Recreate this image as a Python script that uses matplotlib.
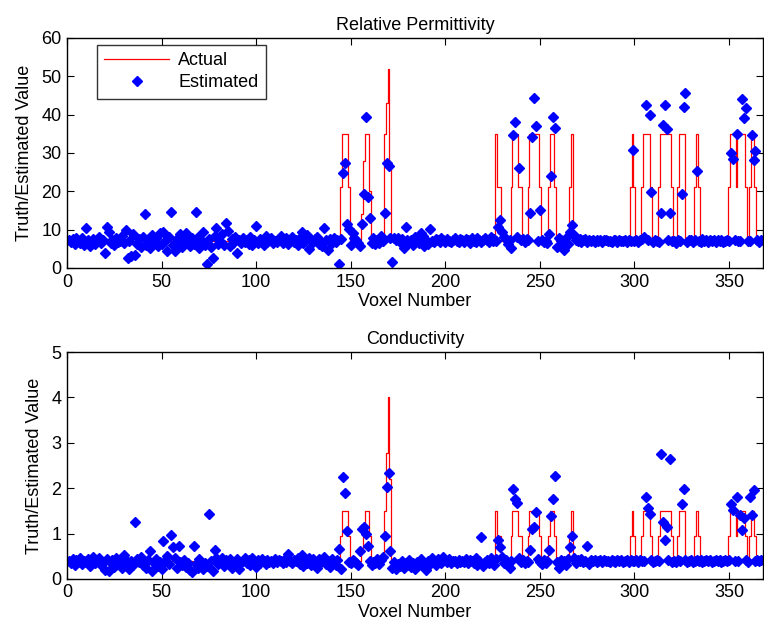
import numpy as np
import matplotlib
matplotlib.use("Agg")
import matplotlib.pyplot as plt

plt.rcParams['font.family'] = ['Liberation Sans', 'DejaVu Sans']

# ---------------- data ----------------
n_voxels = 367
perm_background = 7.0
cond_background = 0.4

# actual (truth) values that differ from background, voxel -> value
perm_actual_peaks = {
    145: 21, 146: 35, 147: 35, 148: 35, 149: 21,
    156: 14, 157: 28, 158: 35, 159: 35, 160: 20,
    168: 35, 169: 43, 170: 52, 171: 27,
    227: 35, 228: 21, 229: 21,
    235: 21, 236: 35, 237: 35, 238: 35, 239: 21, 240: 21,
    244: 21, 245: 35, 246: 35, 247: 35, 248: 35, 249: 35, 250: 21,
    255: 21, 256: 35, 257: 35, 258: 21,
    266: 21, 267: 35,
    298: 21, 299: 35, 300: 21,
    304: 21, 305: 35, 306: 35, 307: 35, 308: 35, 309: 21,
    313: 21, 314: 35, 315: 35, 316: 35, 317: 35, 318: 35, 319: 35, 320: 21,
    323: 21, 324: 35, 325: 35, 326: 35,
    332: 21, 333: 35, 334: 21,
    350: 21, 351: 35, 352: 35, 353: 35, 354: 21, 355: 35, 356: 35, 357: 35,
    358: 35, 359: 21, 361: 21, 362: 35, 363: 35, 364: 21,
}
cond_actual_peaks = {
    145: 0.95, 146: 1.5, 147: 1.5, 148: 1.5, 149: 0.95,
    156: 0.65, 157: 1.15, 158: 1.5, 159: 1.5, 160: 0.95,
    168: 1.5, 169: 2.77, 170: 4.0, 171: 2.2,
    227: 1.5, 228: 0.95, 229: 0.95,
    235: 0.95, 236: 1.5, 237: 1.5, 238: 1.5, 239: 0.95, 240: 0.95,
    244: 0.95, 245: 1.5, 246: 1.5, 247: 1.5, 248: 1.5, 249: 1.5, 250: 0.95,
    255: 0.95, 256: 1.5, 257: 1.5, 258: 0.95,
    266: 0.95, 267: 1.5,
    298: 0.95, 299: 1.5, 300: 0.95,
    304: 0.95, 305: 1.5, 306: 1.5, 307: 1.5, 308: 1.5, 309: 0.95,
    313: 0.95, 314: 1.5, 315: 1.5, 316: 1.5, 317: 1.5, 318: 1.5, 319: 1.5, 320: 0.95,
    323: 0.95, 324: 1.5, 325: 1.5, 326: 1.5,
    332: 0.95, 333: 1.5, 334: 0.95,
    350: 0.95, 351: 1.5, 352: 1.5, 353: 1.5, 354: 0.95, 355: 1.5, 356: 1.5, 357: 1.5,
    358: 1.5, 359: 0.95, 361: 0.95, 362: 1.5, 363: 1.5, 364: 0.95,
}

perm_estimated = [
    7.2, 6.8, 7.5, 6.3, 7.9, 7.0, 6.5, 7.7, 6.1, 10.3, 7.4, 5.8, 6.9, 7.6, 6.2, 7.1, 8.0, 6.6, 7.3, 4.0,
    10.8, 9.5, 6.4, 7.2, 6.0, 7.8, 6.7, 7.1, 8.3, 6.5, 9.9, 2.5, 7.0, 3.1, 8.8, 3.4, 6.2, 7.5, 5.5, 8.1,
    14.2, 6.0, 7.4, 5.2, 8.6, 6.9, 7.8, 5.6, 9.0, 6.3, 9.4, 7.1, 4.4, 8.2, 14.7, 5.9, 4.3, 7.6, 6.1, 8.8,
    5.5, 7.3, 9.0, 6.4, 5.8, 7.9, 6.2, 14.7, 8.0, 5.3, 7.2, 9.3, 6.0, 1.1, 7.6, 5.4, 2.6, 8.4, 10.4, 6.3,
    7.0, 8.9, 6.1, 11.7, 9.6, 5.8, 7.5, 6.6, 8.0, 4.0, 7.3, 6.4, 7.9, 6.8, 7.4, 6.2, 8.1, 5.9, 7.2, 10.9,
    6.5, 7.6, 7.0, 6.1, 8.3, 6.8, 7.3, 7.9, 6.4, 7.1, 6.7, 7.5, 8.4, 6.6, 7.0, 7.7, 6.3, 7.2, 8.0, 6.9,
    7.4, 6.0, 7.8, 9.5, 6.6, 7.1, 8.6, 5.0, 7.3, 6.8, 7.5, 8.1, 6.2, 7.0, 5.6, 10.4, 7.2, 4.8, 7.6, 6.4,
    7.8, 6.9, 7.3, 1.1, 7.5, 24.7, 27.3, 11.4, 10.2, 6.0, 9.0, 7.7, 7.3, 6.4, 5.8, 11.4, 19.4, 39.4, 18.5, 13.0,
    6.4, 7.8, 6.2, 7.4, 6.6, 8.3, 7.1, 14.4, 27.5, 26.6, 7.7, 1.6, 7.7, 7.3, 7.9, 6.9, 7.6, 5.3, 10.6, 7.2,
    6.8, 7.4, 6.1, 8.0, 7.2, 6.5, 9.0, 8.3, 5.7, 7.4, 6.3, 10.2, 7.1, 6.8, 7.6, 7.3, 6.9, 7.8, 7.2, 6.7,
    7.5, 7.1, 6.8, 7.4, 7.9, 7.0, 6.7, 7.6, 7.2, 6.9, 7.5, 7.3, 6.6, 7.8, 7.1, 6.9, 7.7, 7.4, 6.8, 7.2,
    7.9, 7.3, 6.7, 8.2, 7.0, 7.6, 7.1, 10.8, 12.5, 9.3, 8.1, 7.5, 6.2, 7.3, 5.2, 34.7, 38.0, 8.0, 26.0, 7.4,
    7.6, 6.9, 7.5, 7.2, 14.3, 34.1, 44.3, 37.0, 7.1, 15.1, 7.4, 6.8, 7.0, 6.5, 8.9, 24.0, 39.3, 36.6, 5.5, 7.8,
    7.4, 6.9, 4.8, 7.8, 6.3, 9.4, 11.2, 8.6, 7.3, 7.0, 7.5, 6.8, 7.2, 7.6, 6.9, 7.3, 7.1, 7.4, 6.8, 7.2,
    7.0, 7.3, 6.9, 7.2, 7.4, 7.0, 7.1, 6.8, 7.3, 7.2, 6.9, 7.4, 7.0, 7.1, 7.3, 6.9, 7.2, 7.0, 30.8, 7.1,
    7.3, 6.9, 7.2, 7.5, 8.0, 42.5, 7.2, 39.9, 19.7, 6.8, 7.4, 7.1, 6.9, 14.3, 37.3, 42.5, 36.2, 7.2, 14.3, 7.0,
    7.0, 6.6, 7.3, 7.1, 19.3, 42.1, 45.6, 6.8, 7.4, 7.2, 6.9, 7.3, 25.4, 7.1, 6.7, 7.5, 7.0, 7.2, 6.9, 7.3,
    7.1, 7.4, 6.8, 7.2, 7.0, 7.3, 6.9, 7.1, 7.4, 7.0, 30.1, 28.4, 7.2, 35.0, 7.1, 7.0, 44.0, 39.0, 41.6, 7.0,
    7.1, 34.6, 28.2, 30.6, 7.2, 6.9, 7.3,
]

cond_estimated = [
    0.40, 0.36, 0.43, 0.30, 0.41, 0.38, 0.45, 0.33, 0.40, 0.37, 0.44, 0.29, 0.42, 0.48, 0.35, 0.40, 0.46, 0.31, 0.38, 0.20,
    0.43, 0.18, 0.36, 0.41, 0.27, 0.45, 0.33, 0.39, 0.24, 0.52, 0.42, 0.35, 0.22, 0.40, 0.30, 1.26, 0.44, 0.37, 0.48, 0.31,
    0.36, 0.25, 0.41, 0.62, 0.18, 0.34, 0.43, 0.29, 0.38, 0.22, 0.84, 0.40, 0.51, 0.33, 0.96, 0.70, 0.45, 0.24, 0.73, 0.38,
    0.30, 0.42, 0.27, 0.35, 0.20, 0.16, 0.73, 0.32, 0.25, 0.44, 0.38, 0.21, 0.36, 0.29, 1.43, 0.40, 0.18, 0.64, 0.45, 0.33,
    0.39, 0.46, 0.28, 0.41, 0.35, 0.43, 0.25, 0.38, 0.32, 0.44, 0.21, 0.37, 0.40, 0.47, 0.34, 0.42, 0.30, 0.45, 0.38, 0.27,
    0.41, 0.36, 0.44, 0.39, 0.33, 0.42, 0.38, 0.40, 0.35, 0.43, 0.37, 0.41, 0.39, 0.34, 0.44, 0.38, 0.55, 0.40, 0.36, 0.42,
    0.39, 0.45, 0.33, 0.52, 0.28, 0.41, 0.36, 0.47, 0.30, 0.43, 0.38, 0.25, 0.44, 0.35, 0.40, 0.48, 0.32, 0.39, 0.27, 0.43,
    0.36, 0.30, 0.41, 0.65, 0.22, 2.25, 1.90, 1.05, 0.38, 0.34, 0.42, 0.39, 0.36, 0.31, 0.62, 1.10, 1.15, 1.00, 0.73, 0.40,
    0.30, 0.38, 0.35, 0.44, 0.33, 0.41, 0.48, 0.95, 2.02, 2.34, 0.62, 0.25, 0.38, 0.21, 0.33, 0.28, 0.40, 0.24, 0.36, 0.30,
    0.42, 0.27, 0.35, 0.22, 0.38, 0.31, 0.44, 0.29, 0.36, 0.20, 0.40, 0.33, 0.47, 0.37, 0.30, 0.43, 0.39, 0.34, 0.48, 0.41,
    0.38, 0.44, 0.36, 0.40, 0.39, 0.35, 0.42, 0.37, 0.40, 0.38, 0.43, 0.36, 0.41, 0.39, 0.34, 0.45, 0.30, 0.40, 0.93, 0.28,
    0.37, 0.42, 0.35, 0.45, 0.39, 0.30, 0.44, 0.86, 0.70, 0.48, 0.36, 0.41, 0.33, 0.23, 0.40, 1.98, 1.76, 1.67, 0.45, 0.38,
    0.42, 0.35, 0.40, 0.37, 0.64, 1.11, 1.15, 1.48, 0.43, 0.38, 0.33, 0.41, 0.36, 0.40, 0.64, 1.39, 1.76, 2.27, 0.38, 0.23,
    0.42, 0.35, 0.40, 0.31, 0.44, 0.70, 0.95, 0.45, 0.36, 0.41, 0.39, 0.43, 0.37, 0.40, 0.72, 0.33, 0.41, 0.39, 0.42, 0.38,
    0.40, 0.41, 0.38, 0.42, 0.39, 0.40, 0.37, 0.41, 0.40, 0.38, 0.42, 0.39, 0.41, 0.37, 0.40, 0.42, 0.38, 0.41, 0.39, 0.40,
    0.41, 0.38, 0.42, 0.40, 0.39, 1.80, 1.56, 1.43, 0.41, 0.38, 0.40, 0.42, 0.39, 2.75, 1.25, 0.85, 1.15, 0.41, 2.64, 0.38,
    0.40, 0.37, 0.41, 0.39, 1.66, 1.98, 0.42, 0.38, 0.40, 0.41, 0.37, 0.40, 0.42, 0.39, 0.41, 0.38, 0.40, 0.42, 0.39, 0.41,
    0.38, 0.40, 0.42, 0.39, 0.41, 0.37, 0.40, 0.42, 0.39, 0.41, 1.66, 1.52, 0.40, 1.80, 0.39, 1.41, 1.08, 1.34, 0.41, 0.38,
    1.80, 1.41, 1.97, 0.40, 0.42, 0.39, 0.41,
]

x_ticks = [0, 50, 100, 150, 200, 250, 300, 350]
perm_yticks = [0, 10, 20, 30, 40, 50, 60]
cond_yticks = [0, 1, 2, 3, 4, 5]

# ---------------- figure ----------------
voxels = np.arange(1, n_voxels + 1)
perm_actual = [perm_actual_peaks.get(v, perm_background) for v in voxels]
cond_actual = [cond_actual_peaks.get(v, cond_background) for v in voxels]

fig = plt.figure(figsize=(7.64, 6.32), dpi=100)
ax1 = fig.add_axes([0.0877, 0.576, 0.911, 0.364])
ax2 = fig.add_axes([0.0877, 0.084, 0.911, 0.359])

FS = 13

def style(ax, title, yticks, ylim):
    ax.set_xlim(0, 368)
    ax.set_ylim(*ylim)
    ax.set_xticks(x_ticks)
    ax.set_yticks(yticks)
    ax.tick_params(direction='in', top=True, right=True, length=5, width=0.8,
                   labelsize=FS, pad=4)
    for s in ax.spines.values():
        s.set_linewidth(1.0)
        s.set_color('black')
    ax.set_title(title, fontsize=FS, pad=6)
    ax.set_xlabel('Voxel Number', fontsize=FS, labelpad=2)
    ax.set_ylabel('Truth/Estimated Value', fontsize=FS, labelpad=6)

l1, = ax1.plot(voxels, perm_actual, color='#FF0000', lw=0.9, drawstyle='steps-mid', label='Actual')
p1, = ax1.plot(np.arange(1, len(perm_estimated) + 1), perm_estimated, linestyle='none',
               marker='D', markersize=4.6, color='#0000FF', label='Estimated')
style(ax1, 'Relative Permittivity', perm_yticks, (0, 60))
leg = ax1.legend(handles=[l1, p1], loc='upper left', bbox_to_anchor=(0.043, 0.97),
                 borderaxespad=0, fontsize=FS, frameon=True, fancybox=False,
                 edgecolor='black', handlelength=3.6, handletextpad=0.5,
                 labelspacing=0.3, borderpad=0.4)
leg.get_frame().set_linewidth(1.0)

ax2.plot(voxels, cond_actual, color='#FF0000', lw=0.9, drawstyle='steps-mid')
ax2.plot(np.arange(1, len(cond_estimated) + 1), cond_estimated, linestyle='none',
         marker='D', markersize=4.6, color='#0000FF')
style(ax2, 'Conductivity', cond_yticks, (0, 5))

fig.savefig('out.png', dpi=100)
